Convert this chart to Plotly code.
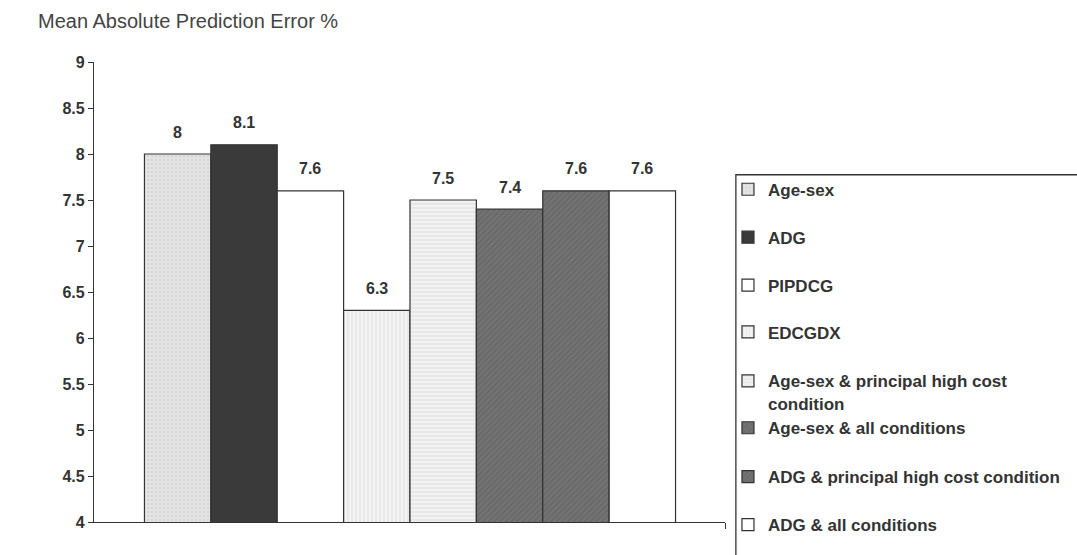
import plotly.graph_objects as go

models = ["Age-sex", "ADG", "PIPDCG", "EDCGDX",
          "Age-sex & principal high cost<br>condition",
          "Age-sex & all conditions",
          "ADG & principal high cost condition",
          "ADG & all conditions"]
values = [8.0, 8.1, 7.6, 6.3, 7.5, 7.4, 7.6, 7.6]
y_ticks = [4, 4.5, 5, 5.5, 6, 6.5, 7, 7.5, 8, 8.5, 9]

fills = ["#e4e4e4", "#3a3a3a", "#ffffff", "#f4f4f4", "#f2f2f2", "#737373", "#737373", "#ffffff"]
pat_shapes = [".", "", "", "|", "-", "/", "/", ""]
pat_fg = ["#c8c8c8", "#3a3a3a", "#ffffff", "#cfcfcf", "#cfcfcf", "#565656", "#565656", "#ffffff"]

W, H = 1077, 555
L, R, T, B = 94, 732, 62, 523
PW, PH = R - L, B - T

def px(xpix):
    return (xpix - L) / PW

def py(ypix):
    return (B - ypix) / PH

FONT = "Liberation Sans, Arial, sans-serif"
TXT = "#333333"

# legend item vertical centres (pixels)
leg_centres = [190, 238, 286, 333, 393, 429, 478, 526]

fig = go.Figure()
for i, (m, v) in enumerate(zip(models, values)):
    lg = "legend" if i == 0 else f"legend{i + 1}"
    fig.add_trace(go.Bar(
        x=[i], y=[v], name=m, width=1, legend=lg,
        marker=dict(color=fills[i], line=dict(color="#333333", width=1.2),
                    pattern=dict(shape=pat_shapes[i], fgcolor=pat_fg[i], bgcolor=fills[i],
                                 size=4, solidity=0.3)),
        hovertemplate="%{y}<extra>" + m + "</extra>",
    ))

annotations = [dict(text="Mean Absolute Prediction Error %", xref="paper", yref="paper",
                    x=px(35), y=py(21), xanchor="left", yanchor="middle",
                    showarrow=False, font=dict(family=FONT, size=20, color="#444444"))]
for i, v in enumerate(values):
    annotations.append(dict(text=f"{v:g}", x=i, y=v, xref="x", yref="y",
                            yanchor="middle", yshift=22, showarrow=False,
                            font=dict(family=FONT, size=16, color=TXT, weight="bold")))

layout = dict(
    width=W, height=H,
    margin=dict(l=L, r=W - R, t=T, b=H - B),
    paper_bgcolor="white", plot_bgcolor="white",
    barmode="overlay",
    font=dict(family=FONT, color=TXT),
    showlegend=True,
    xaxis=dict(range=[-1.26, 8.245], tickvals=[8.245], ticktext=[""], ticks="outside",
               ticklen=6, tickcolor="#333333", showline=True, linecolor="#333333",
               linewidth=1.3, showgrid=False, zeroline=False, fixedrange=True),
    yaxis=dict(range=[4, 9], tickvals=y_ticks, ticktext=[f"{t:g}" for t in y_ticks],
               ticks="outside", ticklen=5, tickcolor="#333333", showline=True,
               linecolor="#333333", linewidth=1.3, showgrid=False, zeroline=False,
               tickfont=dict(family=FONT, size=16, color=TXT, weight="bold"),
               fixedrange=True),
    shapes=[dict(type="rect", xref="paper", yref="paper",
                 x0=px(743), x1=2.0, y0=py(175), y1=-0.5,
                 line=dict(color="#333333", width=1.3), fillcolor="rgba(0,0,0,0)")],
    annotations=annotations,
)
for i, c in enumerate(leg_centres):
    key = "legend" if i == 0 else f"legend{i + 1}"
    layout[key] = dict(x=px(735), y=py(c), xanchor="left", yanchor="middle",
                       valign="top", bgcolor="rgba(0,0,0,0)", borderwidth=0,
                       font=dict(family=FONT, size=17, color=TXT, weight="bold"),
                       itemclick=False, itemdoubleclick=False)

fig.update_layout(**layout)
fig.write_html("out.html", config={"displayModeBar": False},
               post_script="document.body.style.margin='0';document.body.style.overflow='hidden';")
